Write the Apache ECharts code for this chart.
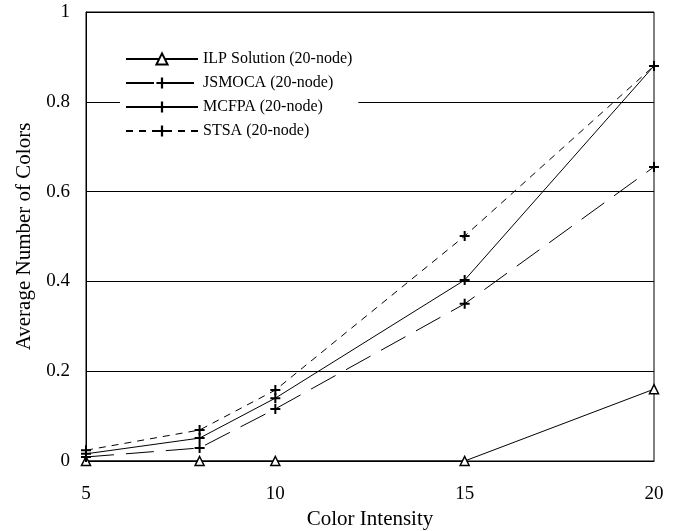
<!DOCTYPE html>
<html><head><meta charset="utf-8">
<script src="https://cdn.jsdelivr.net/npm/echarts@6/dist/echarts.min.js"></script>
<style>html,body{margin:0;padding:0;background:#fff}#c{width:676px;height:531px}</style>
</head><body><div id="c"></div>
<script>
const xValues = [5, 8, 10, 15, 20];
const ilp = [0, 0, 0, 0, 0.16];
const jsmoca = [0.009, 0.029, 0.116, 0.35, 0.655];
const mcfpa = [0.016, 0.051, 0.14, 0.403, 0.88];
const stsa = [0.024, 0.069, 0.158, 0.501, 0.88];
const names = ['ILP Solution (20-node)', 'JSMOCA (20-node)', 'MCFPA (20-node)', 'STSA (20-node)'];

const plus = 'path://M4,0 L6,0 L6,4 L10,4 L10,6 L6,6 L6,10 L4,10 L4,6 L0,6 L0,4 L4,4 Z';
const font = '"Liberation Serif", "Times New Roman", serif';
function pairs(v){ return xValues.map((x,i)=>[x, v[i]]); }

const chart = echarts.init(document.getElementById('c'), null, {renderer:'canvas'});
chart.setOption({
  animation:false,
  backgroundColor:'#fff',
  textStyle:{fontFamily:font, color:'#000'},
  grid:{left:86, right:22, top:12, bottom:70, show:true, borderColor:'#000', borderWidth:1,
        containLabel:false, outerBoundsMode:'none'},
  legend:{
    orient:'vertical', left:120, top:47, itemWidth:72, itemHeight:14, itemGap:8,
    backgroundColor:'#fff', padding:[4,6,4,5],
    textStyle:{fontFamily:font, fontSize:16, color:'#000'},
    data:names
  },
  xAxis:{
    type:'value', min:5, max:20, interval:5,
    name:'Color Intensity', nameLocation:'middle', nameGap:46,
    nameTextStyle:{fontFamily:font, fontSize:21, color:'#000'},
    axisLine:{lineStyle:{color:'#000'}}, axisTick:{show:false},
    axisLabel:{fontFamily:font, fontSize:19, color:'#000', margin:24},
    splitLine:{show:false}
  },
  yAxis:{
    type:'value', min:0, max:1, interval:0.2,
    name:'Average Number of Colors', nameLocation:'middle', nameGap:50,
    nameTextStyle:{fontFamily:font, fontSize:21, color:'#000'},
    axisLine:{show:true, lineStyle:{color:'#000'}}, axisTick:{show:false},
    axisLabel:{fontFamily:font, fontSize:19, color:'#000', margin:16},
    splitLine:{show:true, lineStyle:{color:'#000', width:1}}
  },
  series:[
    {name:names[0], type:'line', data:pairs(ilp), symbol:'triangle', symbolSize:9,
     itemStyle:{color:'#fff', borderColor:'#000', borderWidth:1.5},
     lineStyle:{color:'#000', width:1}},
    {name:names[1], type:'line', data:pairs(jsmoca), symbol:plus, symbolSize:10,
     itemStyle:{color:'#000'}, lineStyle:{color:'#000', width:1, type:[28,12]}},
    {name:names[2], type:'line', data:pairs(mcfpa), symbol:plus, symbolSize:10,
     itemStyle:{color:'#000'}, lineStyle:{color:'#000', width:1}},
    {name:names[3], type:'line', data:pairs(stsa), symbol:plus, symbolSize:10,
     itemStyle:{color:'#000'}, lineStyle:{color:'#000', width:1, type:[7,6]}}
  ]
});
</script></body></html>
